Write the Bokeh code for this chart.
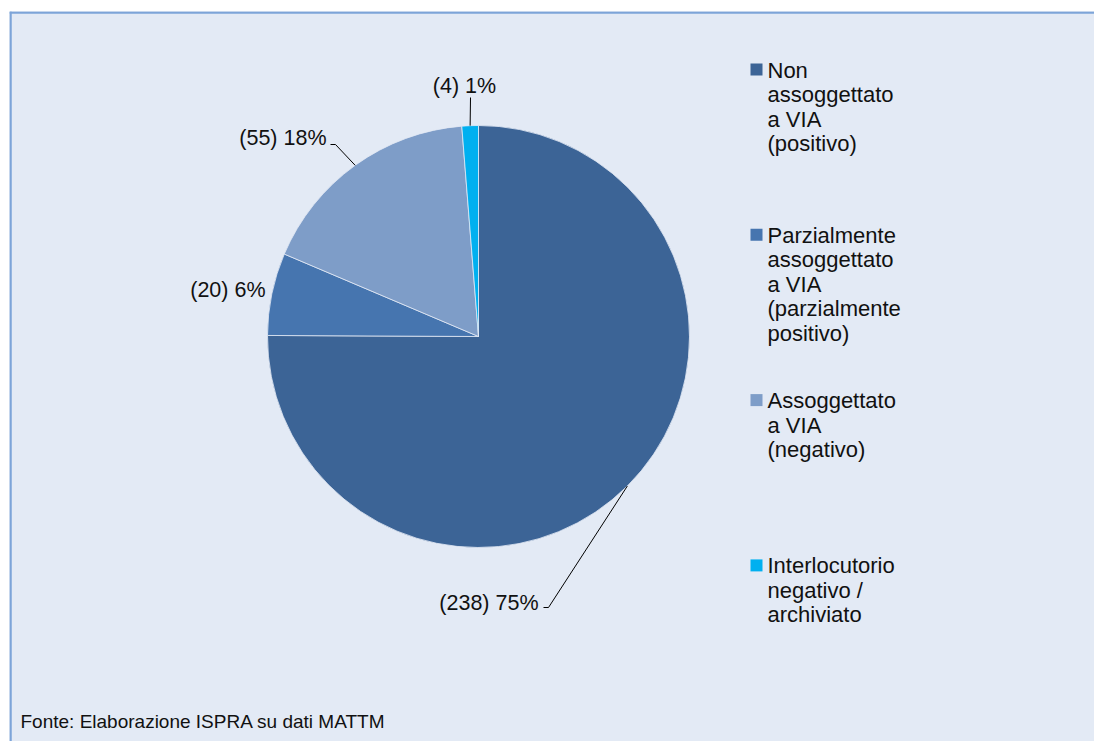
import math
from bokeh.plotting import figure
from bokeh.models import Range1d, ColumnDataSource
from bokeh.core.properties import value
from bokeh.embed import file_html
from bokeh.resources import INLINE

# ---------------- data ----------------
categories = [
    "Non\nassoggettato\na VIA\n(positivo)",
    "Parzialmente\nassoggettato\na VIA\n(parzialmente\npositivo)",
    "Assoggettato\na VIA\n(negativo)",
    "Interlocutorio\nnegativo /\narchiviato",
]
counts = [238, 20, 55, 4]
percent_labels = ["75%", "6%", "18%", "1%"]
colors = ["#3C6496", "#4675AF", "#7E9DC8", "#00B0F0"]
footer = "Fonte: Elaborazione ISPRA su dati MATTM"

# ---------------- layout (page pixel coordinates) ----------------
W, H = 1094, 741
FONT = "Liberation Sans"
BG = "#E3EAF5"
BORDER = "#7DA4D8"
cx, cy, R = 478, 336, 211
# label anchors: (x, y, align) and elbow points of leader line (None = no leader)
label_pos = [(538, 602, "right"), (265, 289, "right"), (326, 137, "right"), (464, 85, "center")]
elbows = [[(548, 607), (543, 607)], None, [(335, 144), (330, 144)], [(470, 97)]]
leg_x, leg_y0, leg_step = 756, 69, 165.3


def Y(py):
    return -py


p = figure(width=W, height=H, output_backend="svg", toolbar_location=None,
           x_range=Range1d(9, W), y_range=Range1d(Y(H), Y(11)),
           x_axis_type=None, y_axis_type=None)
p.min_border_left = 9
p.min_border_top = 11
p.min_border_right = 0
p.min_border_bottom = 0
p.xgrid.visible = False
p.ygrid.visible = False
p.outline_line_color = None
p.background_fill_color = BG
p.border_fill_color = "white"

# frame border (top and left visible)
p.segment(x0=[9, 10], y0=[Y(12), Y(11)], x1=[W, 10], y1=[Y(12), Y(H)],
          line_color=BORDER, line_width=2.5)

# ---------------- pie ----------------
total = sum(counts)
starts, ends, mids = [], [], []
cum = 0.0
for c in counts:
    a0 = cum / total * 2 * math.pi
    cum += c
    a1 = cum / total * 2 * math.pi
    starts.append(math.pi / 2 - a0)
    ends.append(math.pi / 2 - a1)
    mids.append((a0 + a1) / 2)

src = ColumnDataSource(dict(x=[cx] * len(counts), y=[Y(cy)] * len(counts),
                            start=starts, end=ends, color=colors))
p.wedge(x="x", y="y", radius=R, start_angle="start", end_angle="end",
        direction="clock", fill_color="color", line_color=BG, line_width=0.8,
        source=src)

# labels + leaders
lx, ly, lt, la = [], [], [], []
for i, (c, pl) in enumerate(zip(counts, percent_labels)):
    x, y, al = label_pos[i]
    lx.append(x); ly.append(Y(y)); lt.append(f"({c}) {pl}"); la.append(al)
    if elbows[i]:
        ex = cx + R * math.sin(mids[i])
        ey = cy - R * math.cos(mids[i])
        xs = [ex] + [e[0] for e in elbows[i]]
        ys = [Y(ey)] + [Y(e[1]) for e in elbows[i]]
        p.line(xs, ys, line_color="black", line_width=1)

p.text(x=lx, y=ly, text=lt, text_align=la, text_baseline="middle",
       text_font=value(FONT), text_font_size="21.5px", text_color="#111111")

# ---------------- legend ----------------
ly_leg = [Y(leg_y0 + i * leg_step) for i in range(len(categories))]
p.scatter(x=[leg_x] * len(categories), y=ly_leg, marker="square", size=12,
          fill_color=colors, line_color=None)
p.text(x=[leg_x + 11] * len(categories), y=[v + 12 for v in ly_leg], text=categories,
       text_align="left", text_baseline="top", text_line_height=0.98,
       text_font=value(FONT), text_font_size="22px", text_color="#111111")

# footer
p.text(x=[20], y=[Y(721)], text=[footer], text_align="left", text_baseline="middle",
       text_font=value(FONT), text_font_size="19px", text_color="#111111")

open("out.html", "w").write(file_html(p, INLINE))
